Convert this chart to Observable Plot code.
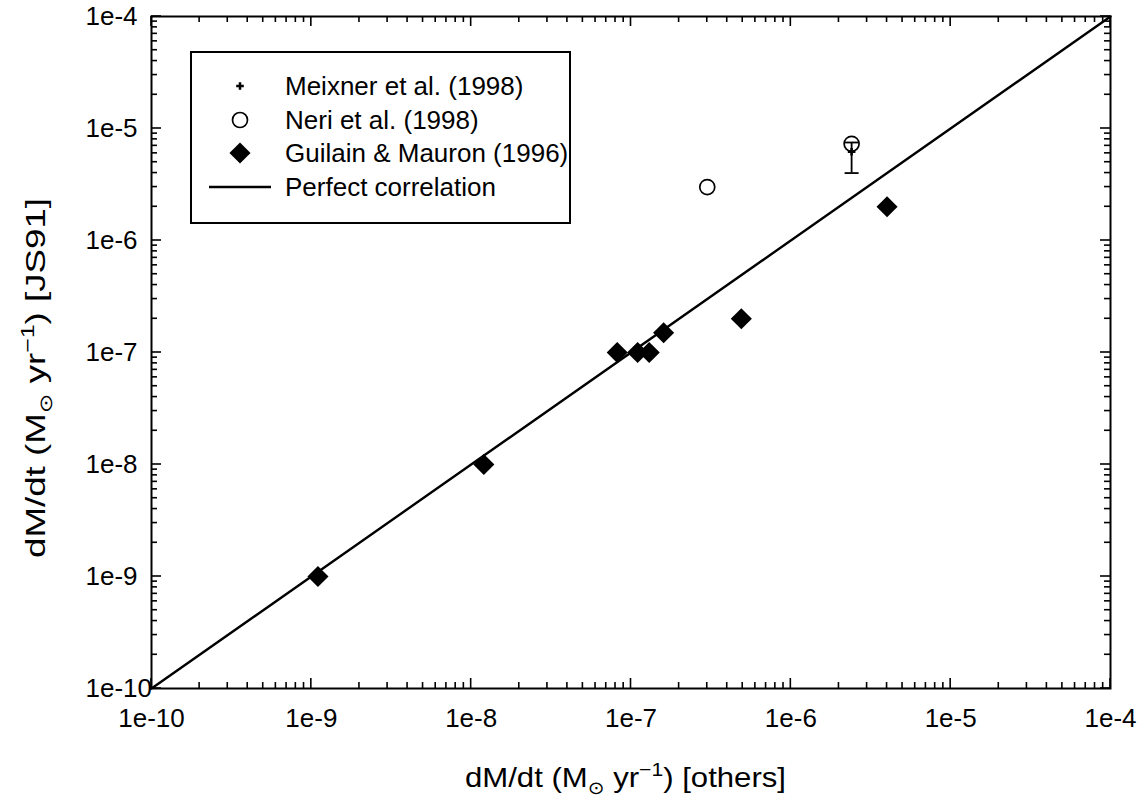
<!DOCTYPE html>
<html>
<head>
<meta charset="utf-8">
<script src="https://cdn.jsdelivr.net/npm/d3@7"></script>
<script src="https://cdn.jsdelivr.net/npm/@observablehq/plot@0.6"></script>
<style>
  html, body { margin: 0; padding: 0; background: white; }
  svg { display: block; }
</style>
</head>
<body>
<div id="chart"></div>
<script>
// ---- data ----
const majorTicks = [1e-10, 1e-9, 1e-8, 1e-7, 1e-6, 1e-5, 1e-4];
const tickLabels = ["1e-10", "1e-9", "1e-8", "1e-7", "1e-6", "1e-5", "1e-4"];

const guilainX = [1.1e-9, 1.2e-8, 8.2e-8, 1.1e-7, 1.3e-7, 1.6e-7, 4.9e-7, 4.0e-6];
const guilainY = [1e-9, 1e-8, 1e-7, 1e-7, 1e-7, 1.5e-7, 2e-7, 2e-6];

const neriX = [3.0e-7, 2.4e-6];
const neriY = [3.0e-6, 7.3e-6];

const meixnerX = [2.4e-6];
const meixnerY = [6.2e-6];
const meixnerYLow = [4.0e-6];
const meixnerYHigh = [7.5e-6];

const perfectX = [1e-10, 1e-4];
const perfectY = [1e-10, 1e-4];

const legendLabels = ["Meixner et al. (1998)", "Neri et al. (1998)", "Guilain & Mauron (1996)", "Perfect correlation"];

// ---- tables ----
const guilain = guilainX.map((x, i) => ({x, y: guilainY[i]}));
const neri = neriX.map((x, i) => ({x, y: neriY[i]}));
const meixner = meixnerX.map((x, i) => ({x, y: meixnerY[i], lo: meixnerYLow[i], hi: meixnerYHigh[i]}));
const perfect = perfectX.map((x, i) => ({x, y: perfectY[i]}));

const minorTicks = [];
for (let e = -10; e < -4; e++) for (let m = 2; m <= 9; m++) minorTicks.push(m * Math.pow(10, e));

const fmt = d => tickLabels[majorTicks.findIndex(t => Math.abs(Math.log10(t) - Math.log10(d)) < 1e-6)];

const capSymbol = {
  draw(context, size) {
    const w = 7;
    context.moveTo(-w, 0);
    context.lineTo(w, 0);
  }
};

const FONT = "'Liberation Sans', Arial, Helvetica, sans-serif";
const MAJ = 10, MIN = 6;

const plot = Plot.plot({
  width: 1140,
  height: 799,
  marginLeft: 151,
  marginRight: 30,
  marginTop: 16,
  marginBottom: 111,
  style: {fontFamily: FONT, fontSize: "26px", background: "white", color: "black", overflow: "visible"},
  x: {type: "log", domain: [1e-10, 1e-4], axis: null},
  y: {type: "log", domain: [1e-10, 1e-4], axis: null},
  marks: [
    // tick labels
    Plot.axisX({anchor: "bottom", ticks: majorTicks, tickSize: 0, tickPadding: 20, tickFormat: fmt, label: null, fontSize: 26}),
    Plot.axisY({anchor: "left", ticks: majorTicks, tickSize: 0, tickPadding: 66, textAnchor: "start", tickFormat: fmt, label: null, fontSize: 26}),
    // perfect correlation
    Plot.line(perfect, {x: "x", y: "y", stroke: "black", strokeWidth: 2.4}),
    // Guilain & Mauron
    Plot.dot(guilain, {x: "x", y: "y", symbol: "diamond2", r: 9.5, fill: "black", stroke: "none"}),
    // Neri
    Plot.dot(neri, {x: "x", y: "y", r: 7.5, fill: "none", stroke: "black", strokeWidth: 1.7}),
    // Meixner with error bar
    Plot.ruleX(meixner, {x: "x", y1: "lo", y2: "hi", stroke: "black", strokeWidth: 1.8}),
    Plot.dot(meixner, {x: "x", y: "lo", symbol: capSymbol, stroke: "black", strokeWidth: 1.8, fill: "none"}),
    Plot.dot(meixner, {x: "x", y: "hi", symbol: capSymbol, stroke: "black", strokeWidth: 1.8, fill: "none"}),
    Plot.dot(meixner, {x: "x", y: "y", symbol: "cross", r: 3.2, fill: "black", stroke: "none"}),
    Plot.frame({stroke: "black", strokeWidth: 2})
  ]
});

document.getElementById("chart").appendChild(plot);

const svg = d3.select(plot);
const sx = plot.scale("x"), sy = plot.scale("y");
const [x0, x1] = sx.range, [y0, y1] = sy.range; // y0 bottom, y1 top

// ---- inward ticks on all four sides, positioned through Plot's scales ----
const tg = svg.append("g").attr("stroke", "black").attr("stroke-width", 1.6).attr("fill", "none");
const addTicksX = (vals, len) => vals.forEach(v => {
  const px = sx.apply(v);
  tg.append("line").attr("x1", px).attr("x2", px).attr("y1", y0).attr("y2", y0 - len);
  tg.append("line").attr("x1", px).attr("x2", px).attr("y1", y1).attr("y2", y1 + len);
});
const addTicksY = (vals, len) => vals.forEach(v => {
  const py = sy.apply(v);
  tg.append("line").attr("y1", py).attr("y2", py).attr("x1", x0).attr("x2", x0 + len);
  tg.append("line").attr("y1", py).attr("y2", py).attr("x1", x1).attr("x2", x1 - len);
});
addTicksX(majorTicks, MAJ); addTicksX(minorTicks, MIN);
addTicksY(majorTicks, MAJ); addTicksY(minorTicks, MIN);

// ---- axis titles (rich text) ----
function richLabel(g, tail, len) {
  const t = g.append("text").attr("font-family", FONT).attr("font-size", 28).attr("fill", "black")
    .attr("textLength", len).attr("lengthAdjust", "spacingAndGlyphs");
  t.append("tspan").text("dM/dt (M");
  t.append("tspan").attr("font-size", 18).attr("dy", 7).attr("font-family", "'DejaVu Sans', sans-serif").text("\u2299");
  t.append("tspan").attr("dy", -7).text(" yr");
  t.append("tspan").attr("font-size", 19).attr("dy", -11).text("\u22121");
  t.append("tspan").attr("dy", 11).text(tail);
  return t;
}

richLabel(svg.append("g"), ") [others]", 321)
  .attr("x", 465).attr("y", 787).attr("text-anchor", "start");

richLabel(svg.append("g").attr("transform", "translate(45,558) rotate(-90)"), ") [JS91]", 360)
  .attr("x", 0).attr("y", 0).attr("text-anchor", "start");

// ---- legend ----
const lg = svg.append("g");
lg.append("rect").attr("x", 191).attr("y", 52).attr("width", 379).attr("height", 171)
  .attr("fill", "white").attr("stroke", "black").attr("stroke-width", 2);
const rowsY = [86, 120, 153, 187];
const symX = 240;
lg.append("path").attr("transform", `translate(${symX},${rowsY[0]})`)
  .attr("d", d3.symbol(d3.symbolCross, Math.PI * 3.2 * 3.2)()).attr("fill", "black");
lg.append("circle").attr("cx", symX).attr("cy", rowsY[1]).attr("r", 7.5)
  .attr("fill", "none").attr("stroke", "black").attr("stroke-width", 1.7);
lg.append("path").attr("transform", `translate(${symX},${rowsY[2]})`)
  .attr("d", d3.symbol(d3.symbolDiamond2, Math.PI * 9.5 * 9.5)()).attr("fill", "black");
lg.append("line").attr("x1", 209).attr("x2", 271).attr("y1", rowsY[3]).attr("y2", rowsY[3])
  .attr("stroke", "black").attr("stroke-width", 2.4);
legendLabels.forEach((s, i) => {
  lg.append("text").attr("x", 285).attr("y", rowsY[i]).attr("dy", "0.35em")
    .attr("text-anchor", "start")
    .attr("font-family", FONT).attr("font-size", 26).attr("fill", "black").text(s);
});
</script>
</body>
</html>
